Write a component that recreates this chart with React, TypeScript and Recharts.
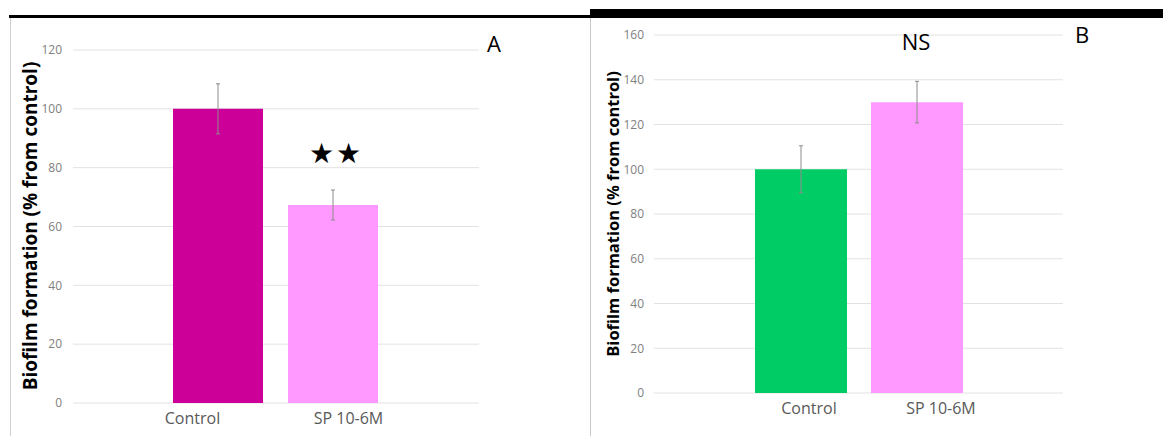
import { Bar, BarChart, CartesianGrid, Cell, ErrorBar, XAxis, YAxis } from "recharts";

const categories = ["Control", "SP 10-6M"];

const panelAValues = [100, 67.3];
const panelAErrors = [8.5, 5.1];
const panelAColors = ["#cc0099", "#ff99ff"];
const panelATicks = [0, 20, 40, 60, 80, 100, 120];

const panelBValues = [100, 130];
const panelBErrors = [10.5, 9.3];
const panelBColors = ["#00cc66", "#ff99ff"];
const panelBTicks = [0, 20, 40, 60, 80, 100, 120, 140, 160];

const yLabel = "Biofilm formation (% from control)";
const font = "'Open Sans', 'Noto Sans', sans-serif";

const panelAData = categories.map((name, i) => ({ name, value: panelAValues[i], err: panelAErrors[i] }));
const panelBData = categories.map((name, i) => ({ name, value: panelBValues[i], err: panelBErrors[i] }));

// category labels in the original sit a bit off the bar centres
function makeTick(offsets: number[]) {
  return function CategoryTick(props: any) {
    const { x, y, payload, index } = props;
    return (
      <text
        x={x + (offsets[index] ?? 0)}
        y={y}
        dy={13}
        textAnchor="middle"
        fill="#595959"
        fontSize={16}
        fontFamily={font}
      >
        {payload.value}
      </text>
    );
  };
}

function RotatedLabel({ cx, cy, size }: { cx: number; cy: number; size: number }) {
  return (
    <div
      style={{
        position: "absolute",
        left: cx,
        top: cy,
        transform: "translate(-50%, -50%) rotate(-90deg)",
        whiteSpace: "nowrap",
        fontFamily: font,
        fontWeight: 700,
        fontSize: size,
        color: "#000",
      }}
    >
      {yLabel}
    </div>
  );
}

function Note({ left, top, size, children, spacing }: any) {
  return (
    <div
      style={{
        position: "absolute",
        left,
        top,
        transform: "translate(-50%, -50%)",
        fontFamily: font,
        fontSize: size,
        lineHeight: 1,
        whiteSpace: "nowrap",
        letterSpacing: spacing ?? 0,
        color: "#000",
      }}
    >
      {children}
    </div>
  );
}

export default function App() {
  return (
    <div
      style={{
        position: "absolute",
        left: 0,
        top: 0,
        width: 1163,
        height: 436,
        background: "#fff",
        overflow: "hidden",
      }}
    >
      {/* panel frames */}
      <div style={{ position: "absolute", left: 9, top: 15, width: 581, height: 3, background: "#000" }} />
      <div style={{ position: "absolute", left: 590, top: 9, width: 573, height: 9, background: "#000" }} />
      <div style={{ position: "absolute", left: 10, top: 18, width: 1, height: 418, background: "#d0d0d0" }} />
      <div style={{ position: "absolute", left: 590, top: 18, width: 1, height: 418, background: "#c8c8c8" }} />

      <div style={{ position: "absolute", left: 0, top: 0 }}>
        <BarChart width={590} height={436} data={panelAData} margin={{ top: 50, right: 111, bottom: 3, left: 13 }}>
          <CartesianGrid vertical={false} stroke="#e2e2e2" />
          <XAxis
            dataKey="name"
            axisLine={false}
            tickLine={false}
            height={30}
            padding={{ left: 87, right: 89 }}
            tick={makeTick([-25, 16])}
            interval={0}
          />
          <YAxis
            width={60}
            domain={[0, 120]}
            ticks={panelATicks}
            axisLine={false}
            tickLine={false}
            tickMargin={5}
            tick={{ fill: "#808080", fontSize: 12, fontFamily: font }}
          />
          <Bar dataKey="value" barSize={90} isAnimationActive={false}>
            {panelAData.map((d, i) => (
              <Cell key={d.name} fill={panelAColors[i]} />
            ))}
            <ErrorBar dataKey="err" width={2} stroke="#8c8c8c" strokeWidth={1} />
          </Bar>
        </BarChart>
      </div>

      <div style={{ position: "absolute", left: 590, top: 0 }}>
        <BarChart width={573} height={436} data={panelBData} margin={{ top: 35, right: 100, bottom: 13, left: 14 }}>
          <CartesianGrid vertical={false} stroke="#e2e2e2" />
          <XAxis
            dataKey="name"
            axisLine={false}
            tickLine={false}
            height={30}
            padding={{ left: 89, right: 88 }}
            tick={makeTick([8, 24])}
            interval={0}
          />
          <YAxis
            width={50}
            domain={[0, 160]}
            ticks={panelBTicks}
            axisLine={false}
            tickLine={false}
            tickMargin={4}
            tick={{ fill: "#808080", fontSize: 12, fontFamily: font }}
          />
          <Bar dataKey="value" barSize={92} isAnimationActive={false}>
            {panelBData.map((d, i) => (
              <Cell key={d.name} fill={panelBColors[i]} />
            ))}
            <ErrorBar dataKey="err" width={2} stroke="#8c8c8c" strokeWidth={1} />
          </Bar>
        </BarChart>
      </div>

      <RotatedLabel cx={30} cy={226} size={19} />
      <RotatedLabel cx={612} cy={214} size={16.5} />

      <Note left={494} top={43} size={22}>A</Note>
      <Note left={1082} top={34} size={22}>B</Note>
      <Note left={916} top={41} size={22}>NS</Note>
      <Note left={336} top={152} size={28} spacing={2}>★★</Note>
    </div>
  );
}
